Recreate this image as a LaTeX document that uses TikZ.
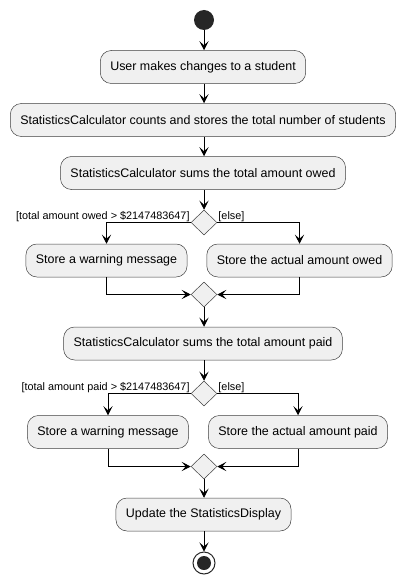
\documentclass[tikz,border=0pt]{standalone}
\usepackage{fontspec}
\setmainfont{Liberation Sans}
\usetikzlibrary{arrows.meta,shapes.geometric}

\tikzset{
  act/.style={draw=black!75, fill=black!6, line width=0.5pt, rounded corners=11pt,
    minimum height=33pt, inner xsep=10pt, font=\fontsize{12.45}{14}\selectfont},
  choice/.style={diamond, draw=black!75, fill=black!6, line width=0.5pt,
    minimum width=26pt, minimum height=25pt, inner sep=0pt},
  flow/.style={line width=0.8pt, -{Stealth[length=9pt,width=9pt,inset=4pt]}},
  guard/.style={font=\fontsize{10.85}{13}\selectfont, inner sep=1pt}
}

\begin{document}
\begin{tikzpicture}[x=1pt,y=-1pt]
  \useasboundingbox (0,0) rectangle (405,583);

  \node[circle, fill=black!85, minimum size=20pt, inner sep=0pt] (start) at (204,20) {};
  \node[act] (user)  at (203,67)    {User makes changes to a student};
  \node[act] (count) at (203,120)   {StatisticsCalculator counts and stores the total number of students};
  \node[act] (owed)  at (203,173)   {StatisticsCalculator sums the total amount owed};

  % owed branch
  \node[choice] (d1) at (204,222.5) {};
  \node[guard, anchor=south east] at (d1.west) {[total amount owed > \$2147483647]};
  \node[guard, anchor=south west] at (d1.east) {[else]};
  \node[act] (warn1) at (106.5,260.5) {Store a warning message};
  \node[act] (real1) at (299.5,260.5) {Store the actual amount owed};
  \node[choice] (m1) at (204,294.5) {};

  \node[act] (paid)  at (203,343.5) {StatisticsCalculator sums the total amount paid};

  % paid branch
  \node[choice] (d2) at (204,393.5) {};
  \node[guard, anchor=south east] at (d2.west) {[total amount paid > \$2147483647]};
  \node[guard, anchor=south west] at (d2.east) {[else]};
  \node[act] (warn2) at (108,432) {Store a warning message};
  \node[act] (real2) at (298,432) {Store the actual amount paid};
  \node[choice] (m2) at (204,466.5) {};

  \node[act] (show)  at (203.5,514.5) {Update the StatisticsDisplay};
  \node[circle, draw=black!85, line width=1pt, minimum size=22pt, inner sep=0pt] (stop) at (204,563) {};
  \node[circle, fill=black!85, minimum size=14pt, inner sep=0pt] at (stop) {};

  \draw[flow] (start) -- (start |- user.north);
  \draw[flow] (user.south -| start) -- (start |- count.north);
  \draw[flow] (count.south -| start) -- (start |- owed.north);
  \draw[flow] (owed.south -| start) -- (d1);
  \draw[flow] (d1.west) -| (warn1);
  \draw[flow] (d1.east) -| (real1);
  \draw[flow] (warn1) |- (m1.west);
  \draw[flow] (real1) |- (m1.east);
  \draw[flow] (m1) -- (start |- paid.north);
  \draw[flow] (paid.south -| start) -- (d2);
  \draw[flow] (d2.west) -| (warn2);
  \draw[flow] (d2.east) -| (real2);
  \draw[flow] (warn2) |- (m2.west);
  \draw[flow] (real2) |- (m2.east);
  \draw[flow] (m2) -- (start |- show.north);
  \draw[flow] (show.south -| start) -- (stop);
\end{tikzpicture}
\end{document}
